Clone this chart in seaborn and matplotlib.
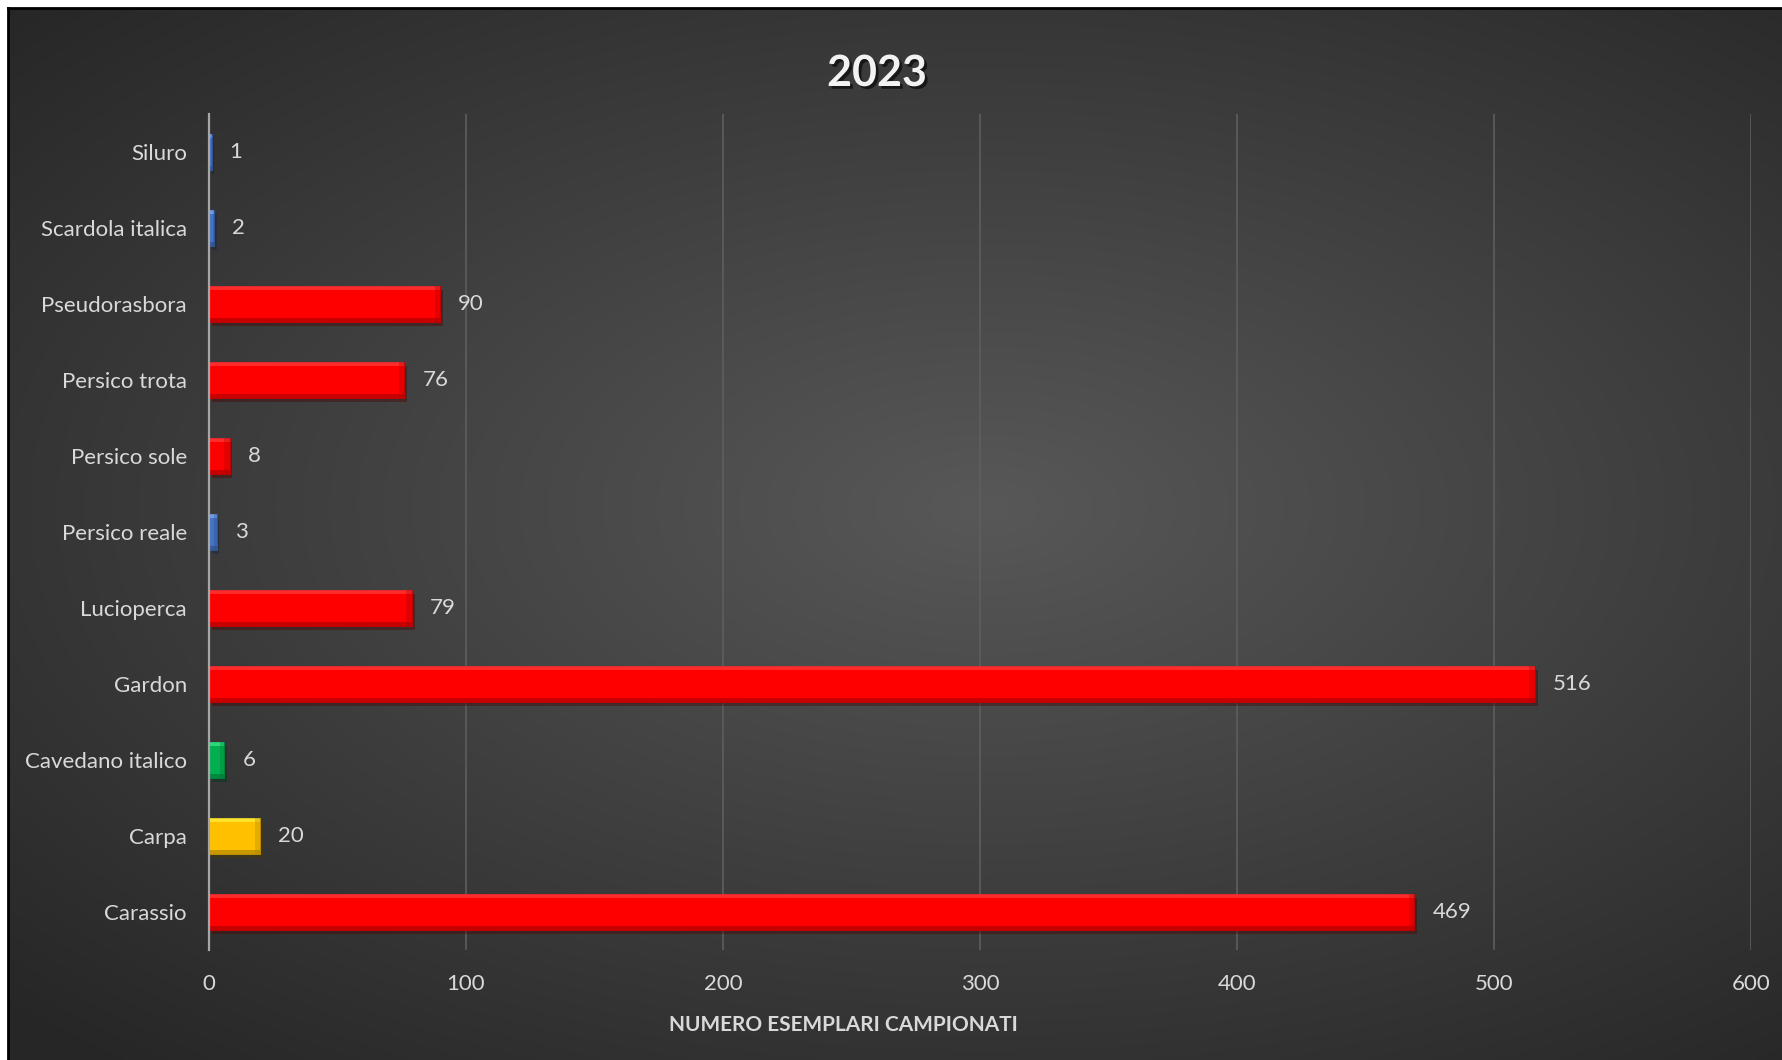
import numpy as np
import pandas as pd
import seaborn as sns
import matplotlib.pyplot as plt
import matplotlib.patheffects as pe
from matplotlib.patches import Rectangle
from matplotlib.colors import to_rgb

# Data
species = ['Siluro', 'Scardola italica', 'Pseudorasbora', 'Persico trota', 'Persico sole',
           'Persico reale', 'Lucioperca', 'Gardon', 'Cavedano italico', 'Carpa', 'Carassio']
counts = [1, 2, 90, 76, 8, 3, 79, 516, 6, 20, 469]
bar_colors = ['#4472C4', '#4472C4', '#FF0000', '#FF0000', '#FF0000', '#4472C4',
              '#FF0000', '#FF0000', '#00B050', '#FFC000', '#FF0000']
x_ticks = [0, 100, 200, 300, 400, 500, 600]

df = pd.DataFrame({'Specie': species, 'Numero': counts})

sns.set_theme(style='dark')
plt.rcParams['font.family'] = ['Lato', 'DejaVu Sans']
text_col = '#D9D9D9'

fig = plt.figure(figsize=(17.83, 10.60), dpi=100, facecolor='white')

# Background panel with radial gradient
bg = fig.add_axes([8 / 1783, 0, 1 - 8 / 1783, 1 - 8 / 1060])
gx, gy = np.meshgrid(np.linspace(-1, 1, 400), np.linspace(-1, 1, 300))
r = np.sqrt(((gx - 0.1) / 1.1) ** 2 + ((gy + 0.05) / 1.0) ** 2)
shade = np.clip(0.345 - 0.14 * r, 0.15, 0.345)
bg.imshow(np.dstack([shade] * 3), aspect='auto', extent=[0, 1, 0, 1], interpolation='bilinear')
bg.set_xticks([])
bg.set_yticks([])
for s in bg.spines.values():
    s.set_color('black')
    s.set_linewidth(2)
bg.spines['right'].set_visible(False)
bg.spines['bottom'].set_visible(False)

ax = fig.add_axes([209 / 1783, 1 - 950 / 1060, (1751 - 209) / 1783, (950 - 114) / 1060])
ax.set_facecolor('none')
sns.barplot(data=df, x='Numero', y='Specie', color='red', width=0.475, ax=ax,
            saturation=1, errorbar=None)

# bevel effect on bars
bars = list(ax.containers[0])
for patch, c in zip(bars, bar_colors):
    x0, y0 = patch.get_x(), patch.get_y()
    w, h = patch.get_width(), patch.get_height()
    rgb = np.array(to_rgb(c))
    light = tuple(np.clip(rgb + 0.3, 0, 1))
    dark = tuple(rgb * 0.65)
    patch.set_facecolor(c)
    patch.set_edgecolor(tuple(rgb * 0.75))
    patch.set_linewidth(0.6)
    patch.set_path_effects([pe.SimplePatchShadow(offset=(2, -3), alpha=0.4), pe.Normal()])
    ax.add_patch(Rectangle((x0, y0), w, h * 0.1, color=light, lw=0, alpha=0.55))
    ax.add_patch(Rectangle((x0, y0 + h * 0.9), w, h * 0.1, color=dark, lw=0, alpha=0.6))
    end = min(w * 0.3, 2.2)
    ax.add_patch(Rectangle((x0 + w - end, y0), end, h, color=dark, lw=0, alpha=0.3))

ax.bar_label(ax.containers[0], labels=[str(v) for v in counts], padding=13,
             color=text_col, fontsize=16)

ax.set_xlim(0, 600)
ax.set_ylim(10.5, -0.5)
ax.set_xticks(x_ticks)
ax.set_xticklabels([str(t) for t in x_ticks])
ax.tick_params(axis='x', colors=text_col, labelsize=16, length=0, pad=17)
ax.tick_params(axis='y', colors=text_col, labelsize=16, length=0, pad=16)
ax.set_xlabel('')
ax.set_ylabel('')
ax.grid(axis='x', color='#5E5E5E', linewidth=1.2)
ax.grid(axis='y', visible=False)
for s in ['top', 'right', 'bottom']:
    ax.spines[s].set_visible(False)
ax.spines['left'].set_color('#A6A6A6')
ax.spines['left'].set_linewidth(1.6)
ax.set_axisbelow(True)

fig.text(877 / 1783, 1 - 73 / 1060, '2023', ha='center', va='center', fontsize=31,
         fontweight='bold', color='#F2F2F2',
         path_effects=[pe.withSimplePatchShadow(offset=(2, -2), shadow_rgbFace='black', alpha=0.6)])
fig.text(843 / 1783, 1 - 1025 / 1060, 'NUMERO ESEMPLARI CAMPIONATI', ha='center', va='center',
         fontsize=15, fontweight='bold', color=text_col)

fig.savefig('out.png', dpi=100, facecolor='white')
